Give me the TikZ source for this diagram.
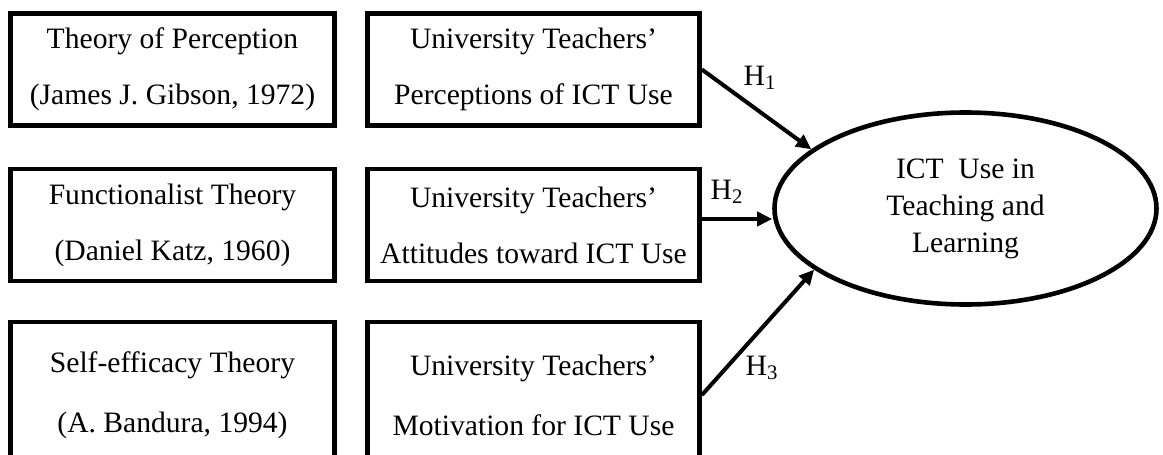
\documentclass[tikz,border=0pt]{standalone}
\usepackage{fontspec}
\setmainfont{Liberation Serif}
\usepackage{tikz}
\usetikzlibrary{arrows.meta, positioning, shapes.geometric}

\begin{document}
\begin{tikzpicture}[x=0.5pt, y=-0.5pt,
    theorybox/.style={draw, line width=2.4pt, minimum width=162pt, minimum height=56pt, inner sep=0pt, align=center, font=\fontsize{14.8}{28}\selectfont},
    varbox/.style={theorybox, minimum width=166pt},
    outcome/.style={draw, ellipse, line width=2.3pt, minimum width=191pt, minimum height=96pt, inner sep=0pt, align=center, font=\fontsize{14.8}{18.5}\selectfont},
    hyp/.style={line width=2pt, -{Triangle[length=7.5pt, width=7pt]}},
    hlabel/.style={font=\fontsize{14.8}{17}\selectfont, inner sep=1pt}]
    \useasboundingbox (0,0) rectangle (1163,455);
    \clip (0,0) rectangle (1163,455);

    % Theories
    \node[theorybox] (gibson) at (172.5,69.5) {Theory of Perception\\(James J. Gibson, 1972)};
    \node[theorybox] (katz) at (172.5,225) {Functionalist Theory\\(Daniel Katz, 1960)};
    \node[theorybox, minimum height=73pt, font=\fontsize{14.8}{30}\selectfont] (bandura) at (172.5,395) {Self-efficacy Theory\\(A. Bandura, 1994)};

    % Independent variables
    \node[varbox] (perc) at (533.5,69.5) {University Teachers’\\Perceptions of ICT Use};
    \node[varbox] (att) at (533.5,225) {University Teachers’\\Attitudes toward ICT Use};
    \node[varbox, minimum height=73pt, font=\fontsize{14.8}{30}\selectfont] (motiv) at (533.5,395) {University Teachers’\\Motivation for ICT Use};

    % Dependent variable
    \node[outcome] (ict) at (965.5,208.5) {ICT~ Use in\\Teaching and\\Learning};

    % Hypotheses
    \draw[hyp] (perc.east) -- (ict.159);
    \draw[hyp] (att.east |- 0,219) -- (ict.west |- 0,219);
    \draw[hyp] (motiv.east) -- (ict.202);

    \node[hlabel] (h1) at (760,78) {H\textsubscript{1}};
    \node[hlabel] (h2) at (727,192) {H\textsubscript{2}};
    \node[hlabel] (h3) at (762,368) {H\textsubscript{3}};
\end{tikzpicture}
\end{document}
